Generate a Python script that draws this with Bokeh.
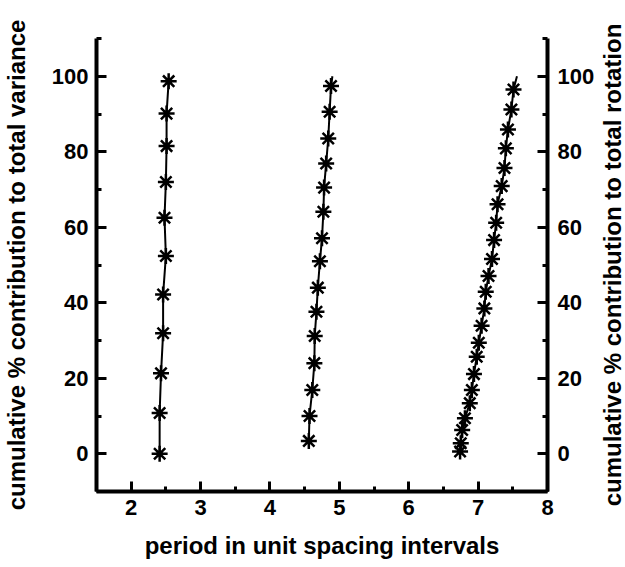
import math
from bokeh.plotting import figure
from bokeh.layouts import row
from bokeh.models import LinearAxis, SingleIntervalTicker, Range1d, Title
from bokeh.embed import file_html
from bokeh.resources import INLINE

# series 1
s1_x = [2.41, 2.41, 2.43, 2.46, 2.46, 2.50, 2.48, 2.50, 2.51, 2.51, 2.54]
s1_y = [0.0, 10.8, 21.3, 31.9, 42.2, 52.4, 62.5, 72.0, 81.5, 90.1, 98.7]
# series 2
s2_x = [4.56, 4.57, 4.61, 4.64, 4.645, 4.67, 4.69, 4.72, 4.75, 4.77, 4.78, 4.81, 4.84, 4.86, 4.88]
s2_y = [3.4, 10.0, 16.9, 24.0, 31.2, 37.6, 44.0, 51.0, 57.1, 64.1, 70.5, 76.9, 83.5, 90.6, 97.4]
s2_end = (4.90, 100.0)
# series 3
s3_x = [6.74, 6.75, 6.77, 6.81, 6.88, 6.91, 6.94, 6.98, 7.01, 7.05, 7.09, 7.11,
        7.15, 7.20, 7.23, 7.26, 7.28, 7.34, 7.38, 7.40, 7.43, 7.48, 7.51]
s3_y = [0.6, 2.8, 6.3, 9.4, 13.4, 16.9, 21.1, 25.7, 29.4, 33.9, 38.5, 42.9,
        47.1, 51.6, 56.6, 61.2, 66.1, 70.9, 75.7, 80.9, 85.9, 91.2, 96.5]
s3_end = (7.56, 100.0)

x_title = "period in unit spacing intervals"
y_title_left = "cumulative % contribution to total variance"
y_title_right = "cumulative % contribution to total rotation"

FONT = "Liberation Sans"
WL, WR, H = 36, 28, 567

p = figure(width=625 - WL - WR, height=H, output_backend="svg", toolbar_location=None,
           x_range=Range1d(1.5, 8), y_range=Range1d(-10, 110),
           min_border_left=96 - WL, min_border_right=625 - WR - 547,
           min_border_top=38, min_border_bottom=76)
p.outline_line_color = None
p.grid.visible = False
p.background_fill_color = "white"
p.border_fill_color = "white"

for xs, ys, end in [(s1_x, s1_y, None), (s2_x, s2_y, s2_end), (s3_x, s3_y, s3_end)]:
    lx = list(xs) + ([end[0]] if end else [])
    ly = list(ys) + ([end[1]] if end else [])
    p.line(lx, ly, line_color="black", line_width=2)
    p.scatter(xs, ys, marker="asterisk", size=16, line_color="black", line_width=2.5)

right = LinearAxis()
p.add_layout(right, "right")

def style(ax):
    ax.axis_line_width = 4
    ax.axis_line_color = "black"
    ax.major_tick_line_width = 3
    ax.minor_tick_line_width = 3
    ax.major_tick_in = 10
    ax.major_tick_out = 0
    ax.minor_tick_in = 5
    ax.minor_tick_out = 0
    ax.major_label_text_font = FONT
    ax.major_label_text_font_style = "bold"
    ax.major_label_text_font_size = "22px"
    ax.major_label_text_color = "black"
    ax.axis_label_text_font = FONT
    ax.axis_label_text_font_style = "bold"
    ax.axis_label_text_font_size = "24px"
    ax.axis_label_text_color = "black"

for ax in p.yaxis:
    ax.ticker = SingleIntervalTicker(interval=20, num_minor_ticks=2)
    style(ax)
p.yaxis[0].major_label_standoff = 8
right.major_label_standoff = 10

xa = p.xaxis[0]
xa.ticker = SingleIntervalTicker(interval=1, num_minor_ticks=2)
xa.major_label_standoff = 8
style(xa)
xa.axis_label = x_title
xa.axis_label_standoff = 14


def strip(width, text):
    s = figure(width=width, height=H, output_backend="svg", toolbar_location=None,
               x_axis_type=None, y_axis_type=None,
               min_border_left=0, min_border_right=0, min_border_top=0, min_border_bottom=H - 2 * 253)
    s.outline_line_color = None
    s.grid.visible = False
    s.add_layout(Title(text=text, align="center", text_font=FONT, text_font_style="bold",
                       text_font_size="24px", text_color="black", standoff=0, offset=0), "left")
    return s

sl = strip(WL, y_title_left)
sr = strip(WR, y_title_right)

layout = row(sl, p, sr, spacing=0)
open("out.html", "w").write(file_html(layout, INLINE))
